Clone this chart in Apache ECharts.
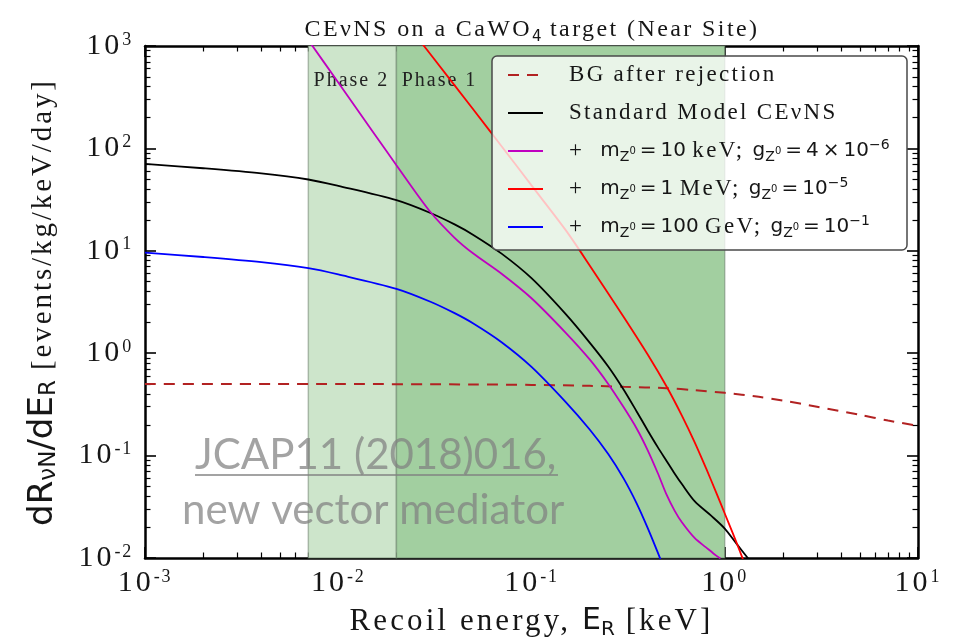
<!DOCTYPE html>
<html>
<head>
<meta charset="utf-8">
<script src="https://cdn.jsdelivr.net/npm/echarts@6/dist/echarts.min.js"></script>
<style>
  html, body { margin: 0; padding: 0; background: #ffffff; }
  #chart { width: 954px; height: 641px; }
</style>
</head>
<body>
<div id="chart"></div>
<script>
// ---- axis ticks -------------------------------------------------------
const xMajorTicks = [0.001, 0.01, 0.1, 1, 10];
const yMajorTicks = [0.01, 0.1, 1, 10, 100, 1000];

// ---- recoil-energy spectra (keV -> events/kg/keV/day) ------------------
const bgEnergy = [0.001, 0.01, 0.05, 0.1, 0.2, 0.3, 0.5, 0.7, 1, 1.5, 2, 3, 5, 7, 10];
const bgRate   = [0.5, 0.5, 0.495, 0.49, 0.48, 0.47, 0.455, 0.435, 0.41, 0.375, 0.345, 0.30, 0.25, 0.22, 0.195];

const smEnergy = [0.001, 0.002, 0.004, 0.007, 0.01, 0.02, 0.03, 0.04, 0.05, 0.07, 0.1, 0.15, 0.2, 0.25, 0.3, 0.35, 0.4, 0.45, 0.5, 0.55, 0.6, 0.7, 0.85, 1.0, 1.15, 1.3, 1.4];
const smRate   = [70.5, 64, 57, 49.7, 43, 31.2, 23.4, 18.1, 14.3, 9.38, 5.4, 2.42, 1.27, 0.738, 0.44, 0.270, 0.175, 0.121, 0.0887, 0.067, 0.0527, 0.0357, 0.0259, 0.0194, 0.0138, 0.0103, 0.0086];

const keVEnergy = [0.007, 0.01, 0.015, 0.02, 0.03, 0.04, 0.05, 0.07, 0.1, 0.15, 0.2, 0.25, 0.3, 0.35, 0.4, 0.45, 0.5, 0.55, 0.6, 0.7, 0.8, 0.9, 0.95];
const keVRate   = [1143, 440, 148, 68.6, 23.9, 13.4, 9.4, 5.97, 3.44, 1.59, 0.869, 0.498, 0.296, 0.184, 0.112, 0.0676, 0.0415, 0.029, 0.0223, 0.0156, 0.0127, 0.0106, 0.0099];

const meVEnergy = [0.02, 0.03, 0.05, 0.07, 0.1, 0.15, 0.2, 0.3, 0.4, 0.5, 0.6, 0.7, 0.8, 0.9, 1.0, 1.1, 1.2, 1.25];
const meVRate   = [2230, 830, 240, 105, 43.5, 16, 7.2, 2.26, 0.966, 0.473, 0.246, 0.134, 0.0753, 0.0443, 0.0272, 0.0175, 0.0115, 0.0094];

const geVEnergy = [0.001, 0.002, 0.004, 0.007, 0.01, 0.02, 0.03, 0.04, 0.05, 0.07, 0.1, 0.15, 0.2, 0.25, 0.3, 0.35, 0.4, 0.45, 0.5];
const geVRate   = [9.6, 8.7, 7.74, 6.76, 5.87, 4.25, 3.18, 2.46, 1.95, 1.28, 0.735, 0.335, 0.180, 0.103, 0.0596, 0.0342, 0.0195, 0.01135, 0.00682];

// ---- detector thresholds (keV) ---------------------------------------
const phaseNames = ['Phase 2', 'Phase 1'];
const phaseStart = [0.007, 0.02];
const phaseEnd   = [0.02, 1.0];

const seriesNames = [
  'BG after rejection',
  'Standard Model CEνNS',
  '+ m_Z0 = 10 keV; g_Z0 = 4 × 10^-6',
  '+ m_Z0 = 1 MeV; g_Z0 = 10^-5',
  '+ m_Z0 = 100 GeV; g_Z0 = 10^-1'
];
const legendRich = [
  '{t|BG after rejection}',
  '{t|Standard Model CEνNS}',
  '{t|+  }{m|m}{sub|Z}{z|0}{m|\u2009=\u200910 }{t|keV; }{m|g}{sub|Z}{z|0}{m|\u2009=\u20094\u2009×\u200910}{sup|−6}',
  '{t|+  }{m|m}{sub|Z}{z|0}{m|\u2009=\u20091 }{t|MeV; }{m|g}{sub|Z}{z|0}{m|\u2009=\u200910}{sup|−5}',
  '{t|+  }{m|m}{sub|Z}{z|0}{m|\u2009=\u2009100 }{t|GeV; }{m|g}{sub|Z}{z|0}{m|\u2009=\u200910}{sup|−1}'
];

// ---- typography -------------------------------------------------------
const SERIF = "'Liberation Serif', 'Times New Roman', serif";
const SANS = "'DejaVu Sans', sans-serif";
const INK = '#161616';

// Serif lettering is drawn with open tracking (0.1 em), in both measuring and painting.
(function () {
  const proto = CanvasRenderingContext2D.prototype;
  if (!('letterSpacing' in proto)) return;
  const spacingFor = function (ctx) {
    const f = ctx.font || '';
    if (f.indexOf('Liberation Serif') < 0) return '0px';
    const m = /([\d.]+)px/.exec(f);
    return m ? (parseFloat(m[1]) * 0.1).toFixed(2) + 'px' : '0px';
  };
  ['fillText', 'strokeText', 'measureText'].forEach(function (fn) {
    const orig = proto[fn];
    proto[fn] = function () {
      this.letterSpacing = spacingFor(this);
      return orig.apply(this, arguments);
    };
  });
})();

function pairs(xs, ys) { return xs.map(function (x, i) { return [x, ys[i]]; }); }

function minorTicks(lo, hi) {
  const out = [];
  for (let e = lo; e < hi; e++) {
    for (let k = 2; k <= 9; k++) out.push(k * Math.pow(10, e));
  }
  return out;
}
const xMinorTicks = minorTicks(-3, 1);
const yMinorTicks = minorTicks(-2, 3);

const powRich = {
  b: { fontFamily: SERIF, fontSize: 30, color: INK, lineHeight: 32 },
  e: { fontFamily: SERIF, fontSize: 18, color: INK, lineHeight: 16, verticalAlign: 'top' }
};
function powLabel(v) {
  const p = Math.round(Math.log10(v));
  return '{b|10}{e|' + p + '}';
}

const chart = echarts.init(document.getElementById('chart'), null, { renderer: 'canvas' });

const axisLineStyle = { show: true, onZero: false, lineStyle: { color: '#000', width: 2.5 } };
function tickAxis(position, min, max, values, length, width, withLine) {
  return {
    type: 'log', logBase: 10, gridIndex: 0, position: position, min: min, max: max,
    axisLine: withLine ? axisLineStyle : { show: false },
    axisTick: { show: true, inside: true, length: length, customValues: values, lineStyle: { color: '#000', width: width } },
    axisLabel: { show: false },
    splitLine: { show: false },
    minorTick: { show: false },
    axisPointer: { show: false }
  };
}

const xMain = tickAxis('bottom', 1e-3, 10, xMajorTicks, 11, 1.6, true);
xMain.axisLabel = { show: true, customValues: xMajorTicks, formatter: powLabel, margin: 9, rich: powRich };
xMain.name = '{t|Recoil energy, }{s|E}{ss|R}{t| [keV]}';
xMain.nameLocation = 'middle';
xMain.nameGap = 44;
xMain.nameTextStyle = {
  rich: {
    t: { fontFamily: SERIF, fontSize: 31, color: INK, lineHeight: 36 },
    s: { fontFamily: SANS, fontSize: 30, color: INK, lineHeight: 36 },
    ss: { fontFamily: SANS, fontSize: 20, color: INK, lineHeight: 26, verticalAlign: 'bottom' }
  }
};

const yMain = tickAxis('left', 1e-2, 1000, yMajorTicks, 11, 1.6, true);
yMain.axisLabel = { show: true, customValues: yMajorTicks, formatter: powLabel, margin: 12, rich: powRich };
yMain.name = '{s|dR}{ss|νN}{s|/dE}{ss|R}{t| [events/kg/keV/day]}';
yMain.nameLocation = 'middle';
yMain.nameRotate = 90;
yMain.nameGap = 84;
yMain.nameTextStyle = {
  rich: {
    t: { fontFamily: SERIF, fontSize: 29, color: INK, lineHeight: 36 },
    s: { fontFamily: SANS, fontSize: 34, color: INK, lineHeight: 36 },
    ss: { fontFamily: SANS, fontSize: 23, color: INK, lineHeight: 26, verticalAlign: 'bottom' }
  }
};

const lineBase = {
  type: 'line', xAxisIndex: 0, yAxisIndex: 0, symbol: 'none', showSymbol: false,
  smooth: 0.3, clip: true, z: 3, emphasis: { disabled: true }
};
const curveColors = ['#b22222', '#000000', '#c000c0', '#ff0000', '#0000ff'];
const curveData = [
  pairs(bgEnergy, bgRate),
  pairs(smEnergy, smRate),
  pairs(keVEnergy, keVRate),
  pairs(meVEnergy, meVRate),
  pairs(geVEnergy, geVRate)
];

const series = curveData.map(function (d, i) {
  return Object.assign({}, lineBase, {
    name: seriesNames[i],
    data: d,
    itemStyle: { color: curveColors[i] },
    lineStyle: { color: curveColors[i], width: i === 0 ? 2 : 1.8, type: i === 0 ? [11, 8] : 'solid' }
  });
});

const phaseColors = ['#cde5cb', '#a2cfa0'];
series.unshift({
  type: 'line', name: 'phases', xAxisIndex: 0, yAxisIndex: 0, data: [], z: 1, silent: true,
  markArea: {
    silent: true,
    label: {
      show: true, position: 'insideTopLeft', formatter: '{b}', distance: 5, offset: [1, 19],
      fontFamily: SERIF, fontSize: 20, color: '#222'
    },
    data: phaseNames.map(function (n, i) {
      return [
        { xAxis: phaseStart[i], name: n, itemStyle: { color: phaseColors[i], borderColor: 'rgba(95,115,95,0.45)', borderWidth: 1.5 } },
        { xAxis: phaseEnd[i] }
      ];
    })
  }
});

const option = {
  animation: false,
  backgroundColor: '#ffffff',
  title: {
    text: '{t|CEνNS on a CaWO}{s|4}{t| target (Near Site)}',
    left: 527, top: 10, textAlign: 'center',
    textStyle: {
      rich: {
        t: { fontFamily: SERIF, fontSize: 24, fontWeight: 'normal', color: INK, lineHeight: 30 },
        s: { fontFamily: SANS, fontSize: 15, fontWeight: 'normal', color: INK, lineHeight: 18, verticalAlign: 'bottom' }
      }
    }
  },
  grid: { left: 145, right: 36, top: 46, bottom: 83, containLabel: false, outerBoundsMode: 'none' },
  legend: {
    data: seriesNames,
    orient: 'vertical', left: 492, top: 56,
    padding: [6, 8, 10, 15],
    itemWidth: 35, itemHeight: 14, itemGap: 12,
    itemStyle: { opacity: 0 },
    backgroundColor: 'rgba(255,255,255,0.76)',
    borderColor: '#4a4a4a', borderWidth: 1.5, borderRadius: 5,
    selectedMode: false,
    formatter: function (name) { return legendRich[seriesNames.indexOf(name)]; },
    textStyle: {
      width: 330, padding: [0, 0, 0, 21], lineHeight: 26,
      rich: {
        t: { fontFamily: SERIF, fontSize: 23, color: INK, lineHeight: 26 },
        m: { fontFamily: SANS, fontSize: 20, color: INK, lineHeight: 26 },
        sub: { fontFamily: SANS, fontSize: 14, color: INK, lineHeight: 14, verticalAlign: 'bottom' },
        z: { fontFamily: SANS, fontSize: 10, color: INK, lineHeight: 26 },
        sup: { fontFamily: SANS, fontSize: 14, color: INK, lineHeight: 14, verticalAlign: 'top' }
      }
    }
  },
  xAxis: [
    xMain,
    tickAxis('bottom', 1e-3, 10, xMinorTicks, 5.5, 1.2, false),
    tickAxis('top', 1e-3, 10, xMajorTicks, 11, 1.6, true),
    tickAxis('top', 1e-3, 10, xMinorTicks, 5.5, 1.2, false)
  ],
  yAxis: [
    yMain,
    tickAxis('left', 1e-2, 1000, yMinorTicks, 5.5, 1.2, false),
    tickAxis('right', 1e-2, 1000, yMajorTicks, 11, 1.6, true),
    tickAxis('right', 1e-2, 1000, yMinorTicks, 5.5, 1.2, false)
  ],
  graphic: [
    {
      type: 'text', z: 5, silent: true,
      style: { x: 195, y: 455, text: 'JCAP11 (2018)016,', font: "42px 'Lato', 'Open Sans', sans-serif", fill: 'rgba(128,128,128,0.72)', textVerticalAlign: 'middle' }
    },
    {
      type: 'line', z: 5, silent: true,
      shape: { x1: 195, y1: 475, x2: 558, y2: 475 },
      style: { stroke: 'rgba(128,128,128,0.72)', lineWidth: 2 }
    },
    {
      type: 'text', z: 5, silent: true,
      style: { x: 182, y: 510, text: 'new vector mediator', font: "42px 'Lato', 'Open Sans', sans-serif", fill: 'rgba(128,128,128,0.72)', textVerticalAlign: 'middle' }
    }
  ],
  series: series
};

chart.setOption(option);
</script>
</body>
</html>
